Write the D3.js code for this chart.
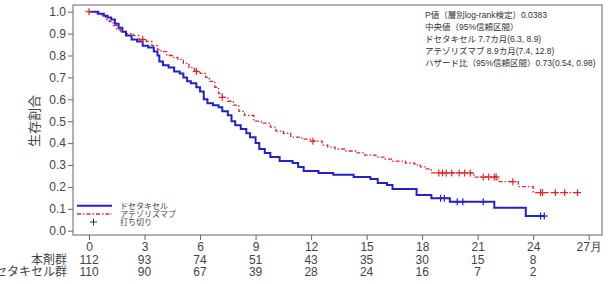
<!DOCTYPE html>
<html>
<head>
<meta charset="utf-8">
<script src="https://cdn.jsdelivr.net/npm/d3@7"></script>
<style>
  body { margin: 0; background: #fff; }
  svg { display: block; font-family: Arial, "Liberation Sans", "Noto Sans CJK JP", sans-serif; }
</style>
</head>
<body>
<svg id="chart" width="614" height="284"></svg>
<script>
// months / survival proportion
var docetaxelTimes = [0.5, 0.8, 1.0, 1.2, 1.4, 1.6, 1.8, 2.0, 2.3, 2.6, 2.9, 3.2, 3.5, 3.7, 3.8, 4.0, 4.3, 4.6, 4.9, 5.1,
  5.3, 5.5, 5.8, 6.0, 6.2, 6.4, 6.7, 7.0, 7.2, 7.5, 7.7, 7.9, 8.2, 8.5, 8.7, 9.0, 9.2, 9.5, 9.8, 10.3,
  11.0, 11.3, 11.6, 12.4, 13.2, 14.3, 15.2, 15.6, 16.1, 16.4, 17.7, 18.5, 19.5, 21.9, 23.6];
var docetaxelSurv = [0.991, 0.982, 0.973, 0.964, 0.945, 0.927, 0.909, 0.891, 0.873, 0.864, 0.845, 0.836, 0.818, 0.800, 0.773, 0.755, 0.745, 0.727, 0.718, 0.700,
  0.682, 0.673, 0.655, 0.636, 0.600, 0.582, 0.573, 0.564, 0.545, 0.527, 0.500, 0.482, 0.464, 0.445, 0.427, 0.400, 0.373, 0.355, 0.336, 0.318,
  0.309, 0.291, 0.273, 0.264, 0.255, 0.245, 0.236, 0.218, 0.209, 0.190, 0.163, 0.148, 0.132, 0.105, 0.067];
var docetaxelCensor = [19.0, 19.2, 19.9, 20.2, 21.3, 24.4, 24.6];

var atezoTimes = [0.4, 0.7, 0.9, 1.1, 1.3, 1.5, 1.7, 2.0, 2.4, 2.7, 3.1, 3.4, 3.7, 3.9, 4.2, 4.5, 4.8, 5.1, 5.4, 5.7,
  6.0, 6.3, 6.5, 6.8, 7.0, 7.2, 7.5, 7.8, 8.1, 8.4, 8.9, 9.3, 9.8, 10.1, 10.5, 10.9, 11.5, 12.0, 12.6, 12.9,
  13.3, 13.8, 14.4, 14.9, 15.5, 16.0, 16.4, 17.1, 17.6, 17.9, 18.2, 18.5, 20.8, 22.1, 23.2, 24.0];
var atezoSurv = [0.991, 0.982, 0.964, 0.955, 0.936, 0.918, 0.909, 0.900, 0.891, 0.873, 0.864, 0.845, 0.827, 0.818, 0.800, 0.791, 0.782, 0.764, 0.745, 0.727,
  0.718, 0.700, 0.682, 0.655, 0.627, 0.609, 0.591, 0.573, 0.545, 0.527, 0.500, 0.491, 0.473, 0.455, 0.445, 0.427, 0.418, 0.409, 0.391, 0.382,
  0.373, 0.364, 0.355, 0.345, 0.336, 0.327, 0.318, 0.309, 0.300, 0.291, 0.282, 0.264, 0.245, 0.224, 0.201, 0.174];
var atezoCensor = [0, 2.9, 5.8, 7.2, 12.1, 18.9, 19.1, 19.3, 19.6, 20.0, 20.3, 20.6, 21.3, 21.6, 21.9, 22.0, 22.9,
  24.4, 24.5, 25.2, 25.7, 26.4];

var xTicks = [0, 3, 6, 9, 12, 15, 18, 21, 24, 27];
var yTicks = [0, 0.1, 0.2, 0.3, 0.4, 0.5, 0.6, 0.7, 0.8, 0.9, 1.0];
var atRiskAtezo = [112, 93, 74, 51, 43, 35, 30, 15, 8];
var atRiskDoce = [110, 90, 67, 39, 28, 24, 16, 7, 2];
var riskLabels = ['本剤群', 'ドセタキセル群'];
var legendLabels = ['ドセタキセル', 'アテゾリズマブ', '打ち切り'];
var statLines = [
  'P値（層別log-rank検定）0.0383',
  '中央値（95%信頼区間）',
  'ドセタキセル 7.7カ月(6.3, 8.9)',
  'アテゾリズマブ 8.9カ月(7.4, 12.8)',
  'ハザード比（95%信頼区間）0.73(0.54, 0.98)'
];

var BLUE = '#2222c8'
  , RED = '#e0282c'
  , TEXT = '#444'
  , AXIS = '#666';

var svg = d3.select('#chart');

var frame = {left: 73, top: 5, right: 602, bottom: 235};

var x = d3.scaleLinear().domain([0, 27]).range([89, 588.7]);
var y = d3.scaleLinear().domain([0, 1]).range([230.7, 11.7]);

function buildSteps(times, surv, censor) {
  var pts = [{t: 0, s: 1}];
  times.forEach(function (t, i) { pts.push({t: t, s: surv[i]}); });
  var end = Math.max(d3.max(times), d3.max(censor));
  pts.push({t: end, s: surv[surv.length - 1]});
  return pts;
}

function survAt(times, surv, t) {
  var s = 1;
  times.forEach(function (tt, i) { if (tt <= t) s = surv[i]; });
  return s;
}

// frame
svg.append('rect')
  .attr('x', frame.left).attr('y', frame.top)
  .attr('width', frame.right - frame.left).attr('height', frame.bottom - frame.top)
  .attr('fill', 'none').attr('stroke', AXIS).attr('stroke-width', 1);

// y axis
var yAxis = d3.axisLeft(y).tickValues(yTicks).tickFormat(d3.format('.1f')).tickSize(5).tickSizeOuter(0);
var gy = svg.append('g').attr('transform', 'translate(' + frame.left + ',0)').call(yAxis);
gy.select('.domain').remove();
gy.selectAll('line').attr('stroke', AXIS);
gy.selectAll('text').attr('fill', TEXT).style('font-size', '12px').attr('x', -7);

// x axis
var xAxis = d3.axisBottom(x).tickValues(xTicks)
  .tickFormat(function (d) { return d === 27 ? '27月' : d; }).tickSize(5).tickSizeOuter(0);
var gx = svg.append('g').attr('transform', 'translate(0,' + frame.bottom + ')').call(xAxis);
gx.select('.domain').remove();
gx.selectAll('line').attr('stroke', AXIS);
gx.selectAll('text').attr('fill', TEXT).style('font-size', '12px').attr('y', 7);

// y axis title
svg.append('text')
  .attr('transform', 'translate(39,121) rotate(-90)')
  .attr('text-anchor', 'middle')
  .attr('fill', TEXT)
  .style('font-size', '13px')
  .text('生存割合');

// number at risk
var riskRows = [atRiskAtezo, atRiskDoce];
riskRows.forEach(function (row, r) {
  var yy = 263.5 + r * 12;
  svg.append('text')
    .attr('x', 67).attr('y', yy)
    .attr('text-anchor', 'end').attr('fill', TEXT)
    .style('font-size', '12px')
    .text(riskLabels[r]);
  svg.selectAll(null).data(row).enter().append('text')
    .attr('x', function (d, i) { return x(xTicks[i]); })
    .attr('y', yy)
    .attr('text-anchor', 'middle').attr('fill', TEXT)
    .style('font-size', '12px')
    .text(function (d) { return d; });
});

// curves
var line = d3.line()
  .x(function (d) { return x(d.t); })
  .y(function (d) { return y(d.s); })
  .curve(d3.curveStepAfter);

svg.append('path')
  .datum(buildSteps(atezoTimes, atezoSurv, atezoCensor))
  .attr('d', line)
  .attr('fill', 'none').attr('stroke', RED).attr('stroke-width', 1.3)
  .attr('stroke-dasharray', '4,2,1.5,2');

svg.append('path')
  .datum(buildSteps(docetaxelTimes, docetaxelSurv, docetaxelCensor))
  .attr('d', line)
  .attr('fill', 'none').attr('stroke', BLUE).attr('stroke-width', 2);

function drawCensor(times, surv, censor, color) {
  var g = svg.append('g').attr('stroke', color).attr('stroke-width', 1.2);
  censor.forEach(function (t) {
    var cx = x(t), cy = y(survAt(times, surv, t));
    g.append('line').attr('x1', cx - 3.5).attr('x2', cx + 3.5).attr('y1', cy).attr('y2', cy);
    g.append('line').attr('x1', cx).attr('x2', cx).attr('y1', cy - 3.5).attr('y2', cy + 3.5);
  });
}
drawCensor(atezoTimes, atezoSurv, atezoCensor, RED);
drawCensor(docetaxelTimes, docetaxelSurv, docetaxelCensor, BLUE);

// legend
var lg = svg.append('g');
lg.append('line').attr('x1', 77).attr('x2', 112).attr('y1', 205.7).attr('y2', 205.7)
  .attr('stroke', BLUE).attr('stroke-width', 2);
lg.append('line').attr('x1', 77).attr('x2', 112).attr('y1', 214).attr('y2', 214)
  .attr('stroke', RED).attr('stroke-width', 1.3).attr('stroke-dasharray', '4,2,1.5,2');
lg.append('line').attr('x1', 90).attr('x2', 97).attr('y1', 222).attr('y2', 222).attr('stroke', '#333');
lg.append('line').attr('x1', 93.5).attr('x2', 93.5).attr('y1', 218.5).attr('y2', 225.5).attr('stroke', '#333');
lg.selectAll('text').data(legendLabels).enter().append('text')
  .attr('x', 120)
  .attr('y', function (d, i) { return 208.8 + i * 8.3; })
  .attr('fill', TEXT)
  .style('font-size', '8px')
  .text(function (d) { return d; });

// statistics text
svg.selectAll('.stat').data(statLines).enter().append('text')
  .attr('class', 'stat')
  .attr('x', 425)
  .attr('y', function (d, i) { return 17.5 + i * 12.2; })
  .attr('fill', '#333')
  .style('font-size', '8.5px')
  .text(function (d) { return d; });
</script>
</body>
</html>
